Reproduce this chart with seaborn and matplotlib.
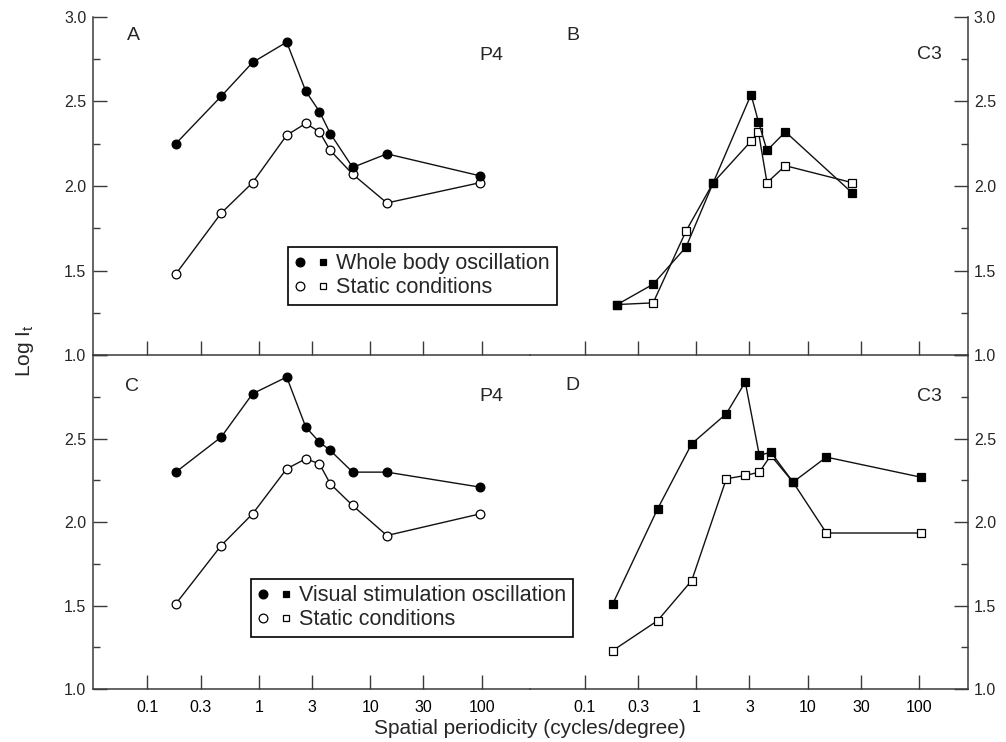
import matplotlib
matplotlib.use("Agg")
import matplotlib.pyplot as plt
import seaborn as sns
import numpy as np
import pandas as pd
from matplotlib.lines import Line2D
from matplotlib.legend_handler import HandlerTuple
from matplotlib.ticker import FixedLocator, NullLocator

# ---------------- data ----------------
x_P4 = [0.18, 0.46, 0.88, 1.78, 2.64, 3.5, 4.38, 6.95, 14.1, 97]
A_whole = [2.25, 2.53, 2.73, 2.85, 2.56, 2.44, 2.31, 2.11, 2.19, 2.06]
A_static = [1.48, 1.84, 2.02, 2.30, 2.37, 2.32, 2.21, 2.07, 1.90, 2.02]
C_visual = [2.30, 2.51, 2.77, 2.87, 2.57, 2.48, 2.43, 2.30, 2.30, 2.21]
C_static = [1.51, 1.86, 2.05, 2.32, 2.38, 2.35, 2.23, 2.10, 1.92, 2.05]

x_C3_B = [0.195, 0.41, 0.81, 1.42, 3.10, 3.61, 4.31, 6.30, 25.0]
B_whole = [1.30, 1.42, 1.64, 2.02, 2.54, 2.38, 2.21, 2.32, 1.96]
B_static = [1.30, 1.31, 1.735, 2.02, 2.265, 2.32, 2.02, 2.12, 2.02]

x_C3_D = [0.178, 0.45, 0.91, 1.86, 2.75, 3.68, 4.66, 7.38, 14.7, 103]
D_visual = [1.51, 2.08, 2.47, 2.65, 2.84, 2.40, 2.42, 2.24, 2.39, 2.27]
D_static = [1.23, 1.41, 1.65, 2.26, 2.28, 2.30, 2.40, 2.24, 1.935, 1.935]

x_ticks = [0.1, 0.3, 1, 3, 10, 30, 100]
x_ticklabels = ["0.1", "0.3", "1", "3", "10", "30", "100"]
y_ticks = [1.0, 1.5, 2.0, 2.5, 3.0]
y_ticklabels_top = ["1.0", "1.5", "2.0", "2.5", "3.0"]
y_ticklabels_bottom = ["1.0", "1.5", "2.0", "2.5", ""]
y_minor = [1.25, 1.75, 2.25, 2.75]

panel_letters = ["A", "B", "C", "D"]
panel_tags = ["P4", "C3", "P4", "C3"]
legend_top = ["Whole body oscillation", "Static conditions"]
legend_bottom = ["Visual stimulation oscillation", "Static conditions"]
x_label = "Spatial periodicity (cycles/degree)"
y_label = "Log I$_\\mathregular{t}$"

# ---------------- style ----------------
sns.set_theme(style="white")
plt.rcParams["font.family"] = ["Liberation Sans", "DejaVu Sans"]
plt.rcParams["mathtext.fontset"] = "custom"
plt.rcParams["mathtext.rm"] = "Liberation Sans"

W, H = 1006, 742
AX_C = "#3a3a3a"
LINE_C = "#111111"


def fxy(px, py):
    return px / W, 1 - py / H


fig = plt.figure(figsize=(W / 100, H / 100), dpi=100)
gs = fig.add_gridspec(2, 2, left=92.7 / W, right=967.7 / W,
                      top=1 - 16.7 / H, bottom=1 - 689 / H,
                      wspace=0, hspace=0, height_ratios=[338.3, 333.3])

panels = [
    (0, 0, "circle", x_P4, A_whole, A_static),
    (0, 1, "square", x_C3_B, B_whole, B_static),
    (1, 0, "circle", x_P4, C_visual, C_static),
    (1, 1, "square", x_C3_D, D_visual, D_static),
]

for r, c, shape, xs, filled, opened in panels:
    ax = fig.add_subplot(gs[r, c])
    ax.set_facecolor("none")
    mk = "o" if shape == "circle" else "s"
    ms = 6.3 if shape == "circle" else 6.2
    df_o = pd.DataFrame({"x": xs, "y": opened})
    df_f = pd.DataFrame({"x": xs, "y": filled})
    sns.lineplot(data=df_o, x="x", y="y", ax=ax, sort=False, estimator=None,
                 color=LINE_C, lw=1.0, marker=mk, markersize=ms,
                 markerfacecolor="white", markeredgecolor="black",
                 markeredgewidth=0.9, zorder=3)
    sns.lineplot(data=df_f, x="x", y="y", ax=ax, sort=False, estimator=None,
                 color=LINE_C, lw=1.0, marker=mk, markersize=ms,
                 markerfacecolor="black", markeredgecolor="black",
                 markeredgewidth=0.9, zorder=4)
    ax.set_xscale("log")
    ax.set_xlim(10 ** -1.49, 10 ** 2.435)
    ax.set_ylim(1, 3)
    ax.set_xlabel("")
    ax.set_ylabel("")
    ax.set_xticks(x_ticks)
    ax.xaxis.set_minor_locator(NullLocator())
    if r == 1:
        ax.set_xticklabels(x_ticklabels, fontsize=11.5)
    else:
        ax.set_xticklabels([])
    ax.tick_params(axis="x", which="major", direction="in", length=10,
                   width=1.0, color=AX_C, pad=8, bottom=True, top=False,
                   labelcolor="black")
    ax.set_yticks(y_ticks)
    ax.set_yticklabels(y_ticklabels_top if r == 0 else y_ticklabels_bottom,
                       fontsize=11.5)
    ax.yaxis.set_minor_locator(FixedLocator(y_minor))
    for s in ax.spines.values():
        s.set_color(AX_C)
        s.set_linewidth(1.1)
    ax.spines["top"].set_visible(False)
    if c == 0:
        ax.spines["right"].set_visible(False)
        ax.yaxis.tick_left()
        ax.tick_params(axis="y", which="both", left=True, right=False,
                       labelleft=True, labelright=False)
    else:
        ax.spines["left"].set_visible(False)
        ax.yaxis.tick_right()
        ax.tick_params(axis="y", which="both", left=False, right=True,
                       labelleft=False, labelright=True)
    ax.tick_params(axis="y", which="major", direction="in", length=10,
                   width=1.0, color=AX_C, pad=4.5)
    ax.tick_params(axis="y", which="minor", direction="in", length=5,
                   width=1.0, color=AX_C)
    ax.grid(False)

# panel letters and tags
letter_pos = [(133, 36), (573, 36), (132, 386.5), (572, 386)]
tag_pos = [(491, 55), (929, 54.5), (491, 397), (929, 397)]
for t, (px, py) in zip(panel_letters, letter_pos):
    fig.text(*fxy(px, py), t, ha="center", va="center", fontsize=14)
for t, (px, py) in zip(panel_tags, tag_pos):
    fig.text(*fxy(px, py), t, ha="center", va="center", fontsize=14)

# axis labels
fig.text(*fxy(530, 728), x_label, ha="center", va="center", fontsize=15)
fig.text(*fxy(25, 351), y_label, ha="center", va="center", fontsize=15,
         rotation=90)

# legends
def make_handles():
    fc = Line2D([], [], ls="none", marker="o", ms=6.3, mfc="black",
                mec="black", mew=0.9)
    fs = Line2D([], [], ls="none", marker="s", ms=5.0, mfc="black",
                mec="black", mew=0.9)
    oc = Line2D([], [], ls="none", marker="o", ms=6.3, mfc="white",
                mec="black", mew=0.9)
    os_ = Line2D([], [], ls="none", marker="s", ms=5.0, mfc="white",
                 mec="black", mew=0.9)
    return [(fc, fs), (oc, os_)]


for labels, (px, py) in [(legend_top, (288, 247)), (legend_bottom, (251, 579))]:
    leg = fig.legend(make_handles(), labels, loc="upper left",
                     bbox_to_anchor=fxy(px, py), bbox_transform=fig.transFigure,
                     borderaxespad=0, frameon=True, fancybox=False,
                     edgecolor="black", framealpha=1, fontsize=15.5,
                     handler_map={tuple: HandlerTuple(ndivide=None, pad=0.5)},
                     handlelength=1.6, handletextpad=0.35, borderpad=0.3,
                     labelspacing=0.12)
    leg.get_frame().set_linewidth(1.2)

fig.savefig("out.png", dpi=100)
